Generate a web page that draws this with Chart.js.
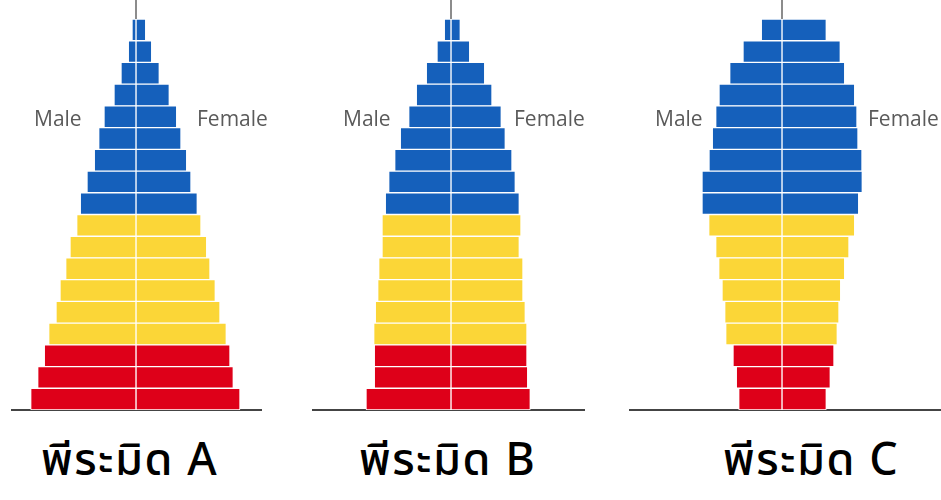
<!DOCTYPE html>
<html>
<head>
<meta charset="utf-8">
<script src="https://cdn.jsdelivr.net/npm/chart.js@4.4.1/dist/chart.umd.min.js"></script>
<style>
  body { margin: 0; background: #fff; width: 941px; height: 500px; overflow: hidden; position: relative; }
  .box { position: absolute; top: 0; height: 412px; }
  .sex { position: absolute; top: 104px; font-family: "Open Sans", "Noto Sans", sans-serif; font-size: 21px; color: #5a5a5a; }
  .name { position: absolute; top: 437px; font-family: Tahoma, "Noto Sans Thai", "Noto Sans", sans-serif; font-size: 45px; font-weight: 500; letter-spacing: 1.5px; color: #000; white-space: nowrap; line-height: 1.1; }
</style>
</head>
<body>
<div class="box" style="left:11px;width:251px"><canvas id="pyrA"></canvas></div>
<div class="box" style="left:312px;width:273px"><canvas id="pyrB"></canvas></div>
<div class="box" style="left:629px;width:312px"><canvas id="pyrC"></canvas></div>

<div class="sex" style="left:34px">Male</div>
<div class="sex" style="left:197px">Female</div>
<div class="sex" style="left:343px">Male</div>
<div class="sex" style="left:514px">Female</div>
<div class="sex" style="left:655px">Male</div>
<div class="sex" style="left:868px">Female</div>

<div class="name" style="left:41px">พีระมิด A</div>
<div class="name" style="left:359px">พีระมิด B</div>
<div class="name" style="left:723px">พีระมิด C</div>

<script>
// age groups, oldest at the top
const ageGroups = ["85+", "80-84", "75-79", "70-74", "65-69", "60-64", "55-59", "50-54", "45-49",
                   "40-44", "35-39", "30-34", "25-29", "20-24", "15-19", "10-14", "5-9", "0-4"];

// (same arbitrary unit for all three)
const maleA   = [4, 7.7, 15, 22, 32, 37.3, 41.7, 49, 55.7, 59.3, 66, 70.3, 76, 80, 87.3, 91.7, 98.3, 105.3];
const femaleA = [9.7, 15.7, 23.3, 33.3, 40.7, 45, 50.7, 55, 61.3, 65, 70.7, 74, 79.3, 84, 90.3, 94, 97.3, 104];

const maleB   = [6.7, 14, 24.7, 34.7, 42.3, 50.7, 56.3, 62.3, 65.7, 69, 69, 72.3, 73.3, 75.7, 77.3, 76.7, 76.7, 85];
const femaleB = [9.3, 18.7, 33.7, 41, 50.3, 54.3, 61, 64.3, 68.3, 70, 68.3, 72, 72, 74.3, 76, 76, 76.7, 79.3];

const maleC   = [20.7, 39, 52.3, 63, 66.3, 69.7, 73, 80, 80, 73.3, 66.3, 63.3, 60, 57.3, 56.3, 49, 45.7, 43.3];
const femaleC = [44.3, 58.3, 62.7, 72.7, 75, 76, 80, 80.3, 76.7, 72.7, 67, 62.7, 58.7, 57, 55.3, 52, 48.3, 44.3];

const blue = "#1560bb";
const yellow = "#fbd637";
const red = "#de0019";

function rowColor(i) {
    if (i < 9) return blue;
    if (i < 15) return yellow;
    return red;
}
const rowColors = ageGroups.map((g, i) => rowColor(i));

// thin grey stem above the bars
const stemPlugin = {
    id: "stem",
    beforeDatasetsDraw(chart) {
        const ctx = chart.ctx;
        const x = chart.scales.x.getPixelForValue(0);
        ctx.save();
        ctx.strokeStyle = "#666";
        ctx.lineWidth = 1.5;
        ctx.beginPath();
        ctx.moveTo(x, 0);
        ctx.lineTo(x, chart.chartArea.top + 2);
        ctx.stroke();
        ctx.restore();
    }
};

function makePyramid(canvasId, males, females, xmin, xmax) {
    const ctx = document.getElementById(canvasId).getContext("2d");
    new Chart(ctx, {
        type: "bar",
        data: {
            labels: ageGroups,
            datasets: [{
                label: "Male",
                data: males.map(v => -v),
                backgroundColor: rowColors
            }, {
                label: "Female",
                data: females,
                backgroundColor: rowColors
            }]
        },
        options: {
            indexAxis: "y",
            responsive: true,
            maintainAspectRatio: false,
            animation: false,
            layout: { padding: { top: 19, bottom: 2 } },
            datasets: {
                bar: {
                    barPercentage: 1,
                    categoryPercentage: 1,
                    borderWidth: 1,
                    borderColor: "#ffffff",
                    borderSkipped: false
                }
            },
            scales: {
                x: {
                    stacked: true,
                    min: xmin,
                    max: xmax,
                    grid: { display: false, drawTicks: false },
                    ticks: { display: false },
                    border: { display: true, color: "#444", width: 2 }
                },
                y: {
                    stacked: true,
                    display: false
                }
            },
            plugins: {
                legend: { display: false },
                tooltip: { enabled: false }
            }
        },
        plugins: [stemPlugin]
    });
}

makePyramid("pyrA", maleA, femaleA, -125, 126);
makePyramid("pyrB", maleB, femaleB, -139, 134);
makePyramid("pyrC", maleC, femaleC, -153, 159);
</script>
</body>
</html>
